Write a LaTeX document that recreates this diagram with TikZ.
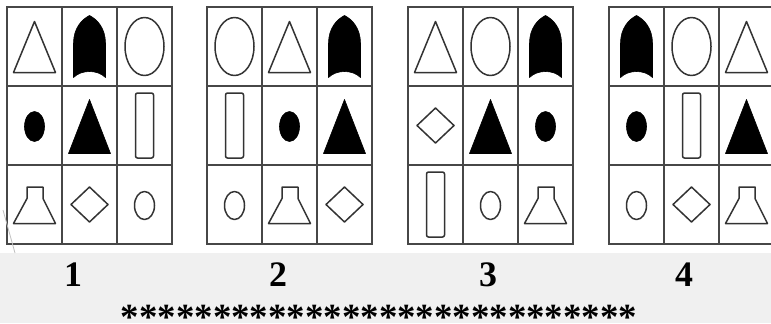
\documentclass[tikz,border=0pt]{standalone}
\usepackage{fontspec}
\setmainfont{Liberation Serif}
\definecolor{panelgray}{RGB}{240,240,240}
\begin{document}
\begin{tikzpicture}[x=1bp, y=-1bp,
    gridline/.style={draw=black!72, line width=1.4bp},
    shapeline/.style={draw=black!80, line width=1.5bp, line join=round},
    blackfill/.style={fill=black, draw=black, line width=0.6bp, line join=round},
    number/.style={font=\fontsize{36}{40}\selectfont\bfseries, inner sep=0pt},
    starline/.style={font=\fontsize{37}{40}\selectfont\bfseries, inner sep=0pt},
    triout/.pic={\draw[shapeline] (0,-25) -- (21,26) -- (-21,26) -- cycle;},
    trifill/.pic={\draw[blackfill] (0,-26) -- (21,28) -- (-21,28) -- cycle;},
    bullet/.pic={\draw[blackfill] (-16,31) -- (-16,-3)
        .. controls (-16,-18) and (-8,-27) .. (0,-31)
        .. controls (8,-27) and (16,-18) .. (16,-3) -- (16,31)
        .. controls (8,23) and (-8,23) .. cycle;},
    bigoval/.pic={\draw[shapeline] (0,0) ellipse [x radius=19.5, y radius=29];},
    smalloval/.pic={\draw[shapeline] (0,1) ellipse [x radius=10, y radius=14];},
    dot/.pic={\draw[blackfill] (0,1) ellipse [x radius=10, y radius=15];},
    rect/.pic={\draw[shapeline, rounded corners=2bp] (-9,-32.5) rectangle (9,32.5);},
    flask/.pic={\draw[shapeline] (-7.5,-17.5) -- (8.5,-17.5) -- (8.5,-6)
        -- (21,19) -- (-21,19) -- (-7.5,-6) -- cycle;},
    diamond/.pic={\draw[shapeline] (0,-17.5) -- (18.5,0) -- (0,17.5) -- (-18.5,0) -- cycle;}
  ]
    \useasboundingbox (0,0) rectangle (771,323);
    \fill[white] (0,0) rectangle (771,253);
    \fill[panelgray] (0,253) rectangle (771,323);

    % the four boards, read row by row
    \foreach \L/\lst in {
        7/{triout,bullet,bigoval,dot,trifill,rect,flask,diamond,smalloval},
        207/{bigoval,triout,bullet,rect,dot,trifill,smalloval,flask,diamond},
        408/{triout,bigoval,bullet,diamond,trifill,dot,rect,smalloval,flask},
        609/{bullet,bigoval,triout,dot,rect,trifill,smalloval,diamond,flask}} {
      \draw[gridline] (\L,7) rectangle ++(165,237);
      \draw[gridline] ({\L+55},7) -- ++(0,237);
      \draw[gridline] ({\L+110},7) -- ++(0,237);
      \draw[gridline] (\L,86) -- ++(165,0);
      \draw[gridline] (\L,165) -- ++(165,0);
      \foreach \s [count=\k from 0] in \lst
        \pic at ({\L+27.5+55*mod(\k,3)},{46.5+79*int(\k/3)}) {\s};
    }
    \draw[black!25, line width=0.8bp] (3,210) -- (15,253);

    \node[number] (lab1) at (73,274.5)  {1};
    \node[number] (lab2) at (278,274.5) {2};
    \node[number] (lab3) at (488,274.5) {3};
    \node[number] (lab4) at (684,274.5) {4};
    \node[starline] (stars) at (379,311)
      {\raisebox{-0.29em}[0.41em][0pt]{****************************}};
\end{tikzpicture}
\end{document}
